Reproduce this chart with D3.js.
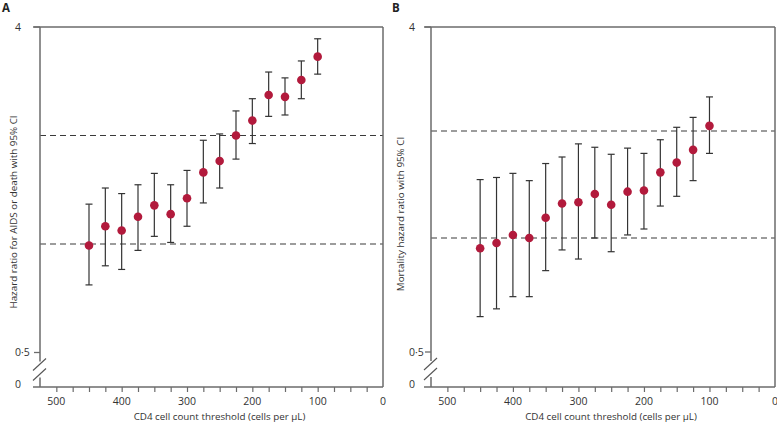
<!DOCTYPE html>
<html><head><meta charset="utf-8">
<script src="https://cdn.jsdelivr.net/npm/d3@7"></script>
<style>
body{margin:0;background:#fff}
text{font-family:"Open Sans",sans-serif;fill:#333}
</style>
</head><body>
<svg id="c" width="777" height="427"></svg>
<script>
// ---- data ----
const thresholds = [450,425,400,375,350,325,300,275,250,225,200,175,150,125,100];
// Panel A: hazard ratio for AIDS or death
const hrA = [0.99,1.12,1.09,1.19,1.28,1.21,1.34,1.58,1.70,2.00,2.20,2.59,2.56,2.85,3.31];
const loA = [0.77,0.87,0.85,0.96,1.05,1.01,1.12,1.30,1.43,1.72,1.90,2.26,2.28,2.53,2.96];
const hiA = [1.29,1.43,1.38,1.46,1.57,1.46,1.60,1.94,2.02,2.34,2.53,3.00,2.89,3.22,3.71];
// Panel B: mortality hazard ratio
const hrB = [0.94,0.97,1.02,1.00,1.14,1.25,1.26,1.33,1.24,1.35,1.36,1.53,1.63,1.77,2.07];
const loB = [0.62,0.65,0.70,0.70,0.82,0.93,0.88,1.00,0.92,1.02,1.06,1.23,1.31,1.45,1.73];
const hiB = [1.46,1.48,1.52,1.45,1.62,1.69,1.84,1.80,1.72,1.79,1.73,1.89,2.05,2.19,2.51];
// ticks
const yTickValues = [0.5,4];
const yTickLabels = ["0·5","4"];
const refLines = [1,2];
const xTickValues = d3.range(25,525,25);
const xLabelValues = [500,400,300,200,100,0];
const xTitle = "CD4 cell count threshold (cells per µL)";

const svg = d3.select("#c");
const AX = "#6b6b6b";

function panel(o){
  const g = svg.append("g");
  const x = d3.scaleLinear().domain([525,0]).range([o.x0,o.x1]);
  const y = d3.scaleLog().domain(o.yDom).range(o.yRange);
  const yTop = y(4), yBot = o.yBot;

  // ref dashed lines
  g.selectAll(".ref").data(refLines).join("line")
    .attr("x1",o.x0).attr("x2",o.x1)
    .attr("y1",d=>y(d)).attr("y2",d=>y(d))
    .attr("stroke","#3a3a3a").attr("stroke-width",1.1).attr("stroke-dasharray","6,4");

  // x axis ticks via d3 axis
  const xa = d3.axisBottom(x).tickValues(xTickValues).tickSize(5).tickSizeOuter(0).tickFormat("");
  const ag = g.append("g").attr("transform",`translate(0,${yBot})`).call(xa);
  ag.select(".domain").remove();
  ag.selectAll("line").attr("stroke",AX).attr("stroke-width",1.2);
  g.selectAll(".xl").data(xLabelValues).join("text")
    .attr("x",d=>x(d)).attr("y",yBot+18).attr("text-anchor","middle")
    .attr("font-size",10.5).text(d=>d);

  // frame
  const fr = g.append("g").attr("stroke",AX).attr("stroke-width",1.5).attr("fill","none");
  fr.append("line").attr("x1",o.x0-7).attr("x2",o.x1).attr("y1",yTop).attr("y2",yTop);
  fr.append("line").attr("x1",o.x0-7).attr("x2",o.x1).attr("y1",yBot).attr("y2",yBot);
  fr.append("line").attr("x1",o.x1).attr("x2",o.x1).attr("y1",yTop).attr("y2",yBot);
  const bTop = y(0.5)+9, bBot = y(0.5)+25;
  fr.append("line").attr("x1",o.x0).attr("x2",o.x0).attr("y1",yTop).attr("y2",bTop);
  fr.append("line").attr("x1",o.x0).attr("x2",o.x0).attr("y1",bBot).attr("y2",yBot);
  // y ticks
  g.selectAll(".yt").data(yTickValues).join("line")
    .attr("x1",o.x0-6).attr("x2",o.x0).attr("y1",d=>y(d)).attr("y2",d=>y(d))
    .attr("stroke",AX).attr("stroke-width",1.3);
  // break marks
  [0,10].forEach(off=>{
    g.append("line").attr("x1",o.x0-7).attr("y1",bTop+9+off).attr("x2",o.x0+6).attr("y2",bTop-3+off)
      .attr("stroke","#555").attr("stroke-width",1.1);
  });
  // y labels
  g.selectAll(".yl").data(yTickValues).join("text")
    .attr("x",o.labX).attr("y",d=>y(d)).attr("dy","0.35em")
    .attr("font-size",10.5).text((d,i)=>yTickLabels[i]);
  g.append("text").attr("x",o.labX).attr("y",yBot).attr("dy","0.1em")
    .attr("font-size",10.5).text("0");

  // titles
  g.append("text").attr("transform",`translate(${o.titleX},${o.titleY}) rotate(-90)`)
    .attr("text-anchor","middle").attr("font-size",9.8).text(o.yTitle);
  g.append("text").attr("x",(o.x0+o.x1)/2+8).attr("y",420).attr("text-anchor","middle")
    .attr("font-size",9.8).text(xTitle);
  g.append("text").attr("x",o.letterX).attr("y",12).attr("font-size",11.5)
    .attr("font-weight","bold").style("fill","#222").text(o.letter);

  // error bars
  const eb = g.append("g").attr("stroke","#333").attr("stroke-width",1.2);
  thresholds.forEach((t,i)=>{
    const cx = x(t);
    eb.append("line").attr("x1",cx).attr("x2",cx).attr("y1",y(o.lo[i])).attr("y2",y(o.hi[i]));
    eb.append("line").attr("x1",cx-3.5).attr("x2",cx+3.5).attr("y1",y(o.lo[i])).attr("y2",y(o.lo[i]));
    eb.append("line").attr("x1",cx-3.5).attr("x2",cx+3.5).attr("y1",y(o.hi[i])).attr("y2",y(o.hi[i]));
  });
  g.selectAll(".pt").data(thresholds).join("circle")
    .attr("cx",d=>x(d)).attr("cy",(d,i)=>y(o.hr[i])).attr("r",4.3)
    .attr("fill","#b21a3c");
}

panel({x0:40,x1:383,yDom:[0.5,4],yRange:[352.5,27],yBot:387,labX:15,
  titleX:17,titleY:212,yTitle:"Hazard ratio for AIDS or death with 95% CI",
  letter:"A",letterX:2,hr:hrA,lo:loA,hi:hiA});
panel({x0:431,x1:775,yDom:[0.5,1,2,4],yRange:[352,238,131,27],yBot:387,labX:409,
  titleX:404,titleY:214,yTitle:"Mortality hazard ratio with 95% CI",
  letter:"B",letterX:392,hr:hrB,lo:loB,hi:hiB});
</script>
</body></html>
